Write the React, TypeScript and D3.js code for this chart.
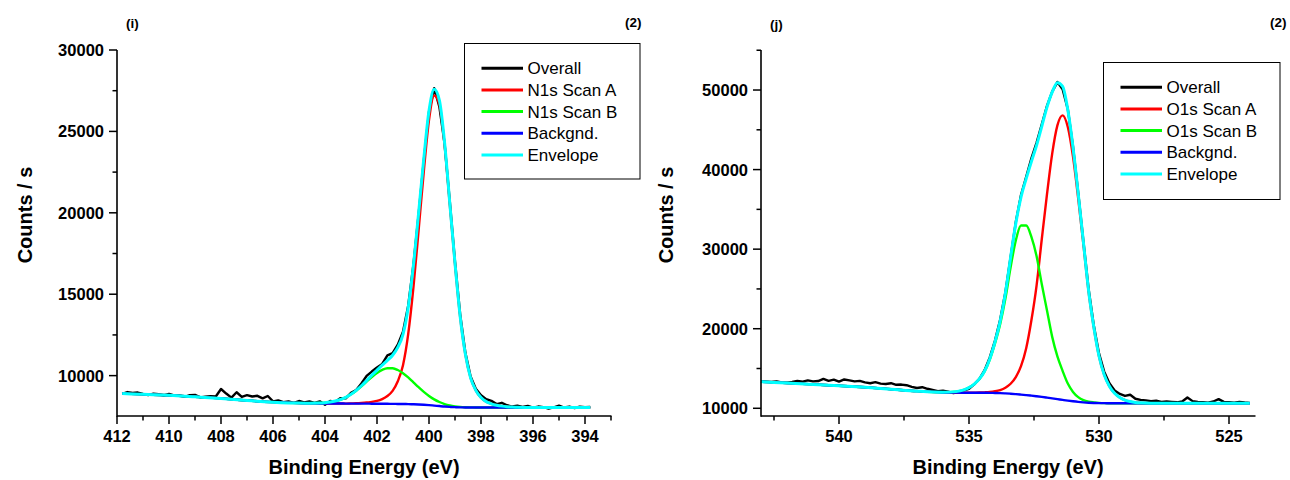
import * as d3 from 'd3';

const FONT = '"Liberation Sans", Arial, Helvetica, sans-serif';

// ---------- panel (i) : N1s ----------
const N1S_FIT_E = [
  411.8, 411, 410, 409, 408, 407, 406, 405, 404.6, 404.2,
  404.0, 403.8, 403.6, 403.4, 403.2, 403.0, 402.8, 402.6, 402.4, 402.2,
  402.0, 401.8, 401.6, 401.4, 401.2, 401.0, 400.8, 400.6, 400.4, 400.2,
  400.0, 399.8, 399.6, 399.4, 399.2, 399.0, 398.8, 398.6, 398.4, 398.2,
  398.0, 397.8, 397.6, 397.4, 397.2, 397.0, 396.8, 396.6, 396, 395, 394, 393.8,
];
const N1S_BACKGND = [
  8900, 8850, 8790, 8700, 8600, 8470, 8370, 8310, 8300, 8290,
  8285, 8284, 8284, 8284, 8283, 8283, 8282, 8281, 8279, 8276,
  8274, 8271, 8268, 8264, 8260, 8256, 8250, 8241, 8229, 8210,
  8187, 8159, 8130, 8102, 8080, 8063, 8052, 8046, 8043, 8041,
  8040, 8040, 8040, 8040, 8040, 8040, 8040, 8040, 8040, 8040, 8040, 8040,
];
const N1S_SCAN_A = [
  8900, 8850, 8790, 8700, 8600, 8470, 8370, 8310, 8300, 8290,
  8285, 8284, 8284, 8284, 8283, 8293, 8301, 8319, 8346, 8391,
  8446, 8558, 8746, 9066, 9654, 10644, 12548, 15404, 18925, 22535,
  25702, 27202, 26657, 24146, 20495, 16849, 13591, 11293, 9858, 9092,
  8651, 8403, 8269, 8183, 8126, 8088, 8069, 8055, 8042, 8040, 8040, 8040,
];
const N1S_SCAN_B = [
  8900, 8850, 8790, 8700, 8600, 8470, 8370, 8311, 8307, 8317,
  8336, 8374, 8438, 8533, 8667, 8849, 9075, 9341, 9628, 9913,
  10166, 10354, 10455, 10451, 10343, 10148, 9887, 9590, 9289, 9003,
  8753, 8543, 8379, 8256, 8170, 8114, 8079, 8060, 8050, 8044,
  8041, 8040, 8040, 8040, 8040, 8040, 8040, 8040, 8040, 8040, 8040, 8040,
];
const N1S_ENVELOPE = [
  8900, 8850, 8790, 8700, 8600, 8470, 8370, 8311, 8307, 8317,
  8336, 8374, 8438, 8533, 8667, 8859, 9094, 9379, 9695, 10028,
  10338, 10641, 10933, 11253, 11737, 12536, 14185, 16753, 19985, 23328,
  26268, 27586, 26906, 24300, 20585, 16900, 13618, 11307, 9865, 9095,
  8651, 8403, 8269, 8183, 8126, 8088, 8069, 8055, 8042, 8040, 8040, 8040,
];
const N1S_RAW_E = [
  411.8, 411.6, 411.4, 411.2, 411.0, 410.8, 410.6, 410.4, 410.2, 410.0,
  409.8, 409.6, 409.4, 409.2, 409.0, 408.8, 408.6, 408.4, 408.2, 408.0,
  407.8, 407.6, 407.4, 407.2, 407.0, 406.8, 406.6, 406.4, 406.2, 406.0,
  405.8, 405.6, 405.4, 405.2, 405.0, 404.8, 404.6, 404.4, 404.2, 404.0,
  403.8, 403.6, 403.4, 403.2, 403.0, 402.8, 402.6, 402.4, 402.2, 402.0,
  401.8, 401.6, 401.4, 401.2, 401.0, 400.8, 400.6, 400.4, 400.2, 400.0,
  399.8, 399.6, 399.4, 399.2, 399.0, 398.8, 398.6, 398.4, 398.2, 398.0,
  397.8, 397.6, 397.4, 397.2, 397.0, 396.8, 396.6, 396.4, 396.2, 396.0,
  395.8, 395.6, 395.4, 395.2, 395.0, 394.8, 394.6, 394.4, 394.2, 394.0, 393.8,
];
const N1S_OVERALL = [
  8880, 8990, 8930, 8960, 8870, 8800, 8890, 8860, 8780, 8870,
  8790, 8780, 8700, 8800, 8820, 8660, 8700, 8730, 8720, 9180,
  8900, 8650, 8980, 8700, 8800, 8720, 8760, 8600, 8750, 8420,
  8480, 8370, 8420, 8330, 8440, 8360, 8420, 8330, 8420, 8210,
  8450, 8390, 8620, 8600, 8950, 9120, 9520, 9980, 10250, 10500,
  10720, 11250, 11380, 11900, 12700, 14300, 16800, 19900, 23200, 26200,
  27650, 26500, 24250, 20700, 17000, 13750, 11400, 9950, 9200, 8800,
  8550, 8450, 8250, 8330, 8180, 8100, 8150, 8080, 8140, 8030,
  8100, 8060, 7980, 8050, 8150, 8040, 8100, 8010, 8090, 8060, 8080,
];
const N1S_X_TICKS = [412, 410, 408, 406, 404, 402, 400, 398, 396, 394];
const N1S_X_MINOR = [411, 409, 407, 405, 403, 401, 399, 397, 395, 393];
const N1S_Y_TICKS = [10000, 15000, 20000, 25000, 30000];
const N1S_Y_MINOR = [12500, 17500, 22500, 27500];
const N1S_LEGEND = ['Overall', 'N1s Scan A', 'N1s Scan B', 'Backgnd.', 'Envelope'];

// ---------- panel (j) : O1s ----------
const O1S_FIT_E = [
  543, 542, 541, 540, 539, 538, 537, 536, 535.5, 535.2,
  535.0, 534.8, 534.6, 534.4, 534.2, 534.0, 533.8, 533.6, 533.4, 533.2,
  533.0, 532.8, 532.6, 532.4, 532.2, 532.0, 531.8, 531.6, 531.4, 531.2,
  531.0, 530.8, 530.6, 530.4, 530.2, 530.0, 529.8, 529.6, 529.4, 529.2,
  529.0, 528.8, 528.6, 528.4, 528, 527, 526, 525, 524.2,
];
const O1S_BACKGND = [
  13340, 13170, 13000, 12840, 12640, 12400, 12150, 11990, 11965, 11960,
  11959, 11957, 11954, 11949, 11939, 11924, 11902, 11871, 11830, 11780,
  11722, 11658, 11587, 11511, 11430, 11342, 11249, 11153, 11055, 10961,
  10877, 10804, 10747, 10703, 10673, 10654, 10643, 10636, 10633, 10631,
  10630, 10630, 10630, 10630, 10630, 10630, 10630, 10630, 10630,
];
const O1S_SCAN_A = [
  13340, 13170, 13000, 12840, 12640, 12400, 12150, 11990, 11965, 11960,
  11959, 11968, 11979, 12003, 12046, 12139, 12295, 12586, 13082, 13926,
  15298, 17558, 21063, 25457, 31277, 36910, 42003, 45554, 46815, 45362,
  41631, 36372, 30594, 24649, 20149, 16554, 14219, 12782, 11885, 11346,
  11023, 10845, 10737, 10684, 10641, 10630, 10630, 10630, 10630,
];
const O1S_SCAN_B = [
  13340, 13170, 13000, 12840, 12640, 12400, 12150, 12011, 12094, 12303,
  12603, 13030, 13671, 14632, 16124, 18147, 20593, 23781, 27710, 31094,
  32967, 32968, 31545, 29108, 25594, 22287, 18975, 16518, 14703, 13107,
  12057, 11405, 11026, 10832, 10737, 10675, 10643, 10636, 10633, 10631,
  10630, 10630, 10630, 10630, 10630, 10630, 10630, 10630, 10630,
];
const O1S_ENVELOPE = [
  13340, 13170, 13000, 12840, 12640, 12400, 12150, 12011, 12094, 12303,
  12603, 13041, 13696, 14686, 16231, 18362, 20986, 24496, 28962, 33240,
  36543, 38868, 41021, 43054, 45441, 47855, 49729, 50919, 50463, 47508,
  42811, 36973, 30873, 24778, 20213, 16575, 14219, 12782, 11885, 11346,
  11023, 10845, 10737, 10684, 10641, 10630, 10630, 10630, 10630,
];
const O1S_RAW_E = [
  543.0, 542.8, 542.6, 542.4, 542.2, 542.0, 541.8, 541.6, 541.4, 541.2,
  541.0, 540.8, 540.6, 540.4, 540.2, 540.0, 539.8, 539.6, 539.4, 539.2,
  539.0, 538.8, 538.6, 538.4, 538.2, 538.0, 537.8, 537.6, 537.4, 537.2,
  537.0, 536.8, 536.6, 536.4, 536.2, 536.0, 535.8, 535.6, 535.4, 535.2,
  535.0, 534.8, 534.6, 534.4, 534.2, 534.0, 533.8, 533.6, 533.4, 533.2,
  533.0, 532.8, 532.6, 532.4, 532.2, 532.0, 531.8, 531.6, 531.4, 531.2,
  531.0, 530.8, 530.6, 530.4, 530.2, 530.0, 529.8, 529.6, 529.4, 529.2,
  529.0, 528.8, 528.6, 528.4, 528.2, 528.0, 527.8, 527.6, 527.4, 527.2,
  527.0, 526.8, 526.6, 526.4, 526.2, 526.0, 525.8, 525.6, 525.4, 525.2,
  525.0, 524.8, 524.6, 524.4, 524.2,
];
const O1S_OVERALL = [
  13400, 13350, 13300, 13380, 13250, 13220, 13300, 13450, 13350, 13500,
  13380, 13420, 13700, 13450, 13600, 13350, 13620, 13500, 13380, 13450,
  13250, 13150, 13280, 13100, 13050, 13150, 12950, 12980, 12900, 12700,
  12550, 12650, 12450, 12300, 12150, 12200, 12100, 11900, 12050, 12250,
  12450, 13000, 13700, 14800, 16400, 18500, 21150, 24600, 29000, 33400,
  36800, 39100, 41400, 43400, 45700, 48000, 49800, 51000, 50100, 47600,
  42900, 37100, 31000, 25000, 20400, 16900, 14600, 13150, 12250, 11800,
  11550, 11700, 11200, 11050, 11000, 10900, 10950, 10800, 10850, 10800,
  10750, 10850, 11350, 10900, 10800, 10750, 10700, 10850, 11150, 10800,
  10750, 10700, 10800, 10720, 10680,
];
const O1S_X_TICKS = [540, 535, 530, 525];
const O1S_X_MINOR = [542.5, 537.5, 532.5, 527.5];
const O1S_Y_TICKS = [10000, 20000, 30000, 40000, 50000];
const O1S_Y_MINOR = [15000, 25000, 35000, 45000, 55000];
const O1S_LEGEND = ['Overall', 'O1s Scan A', 'O1s Scan B', 'Backgnd.', 'Envelope'];

// Overall, Scan A, Scan B, Backgnd., Envelope
const SERIES_COLORS = ['#000000', '#ff0000', '#00ff00', '#0000ff', '#00ffff'];

const TOP = 50;
const BOTTOM = 416;

type PanelProps = {
  left: number;
  right: number;
  xDomain: [number, number];
  yDomain: [number, number];
  xTicks: number[];
  xMinor: number[];
  yTicks: number[];
  yMinor: number[];
  fitE: number[];
  fits: number[][]; // scan A, scan B, backgnd, envelope
  rawE: number[];
  raw: number[];
  legend: string[];
  legendBox: { x: number; y: number; w: number; h: number };
  yTitleX: number;
  tag: string;
  tagX: number;
  tagY: number;
  numX: number;
};

function Panel(p: PanelProps) {
  const x = d3.scaleLinear().domain(p.xDomain).range([p.left, p.right]);
  const y = d3.scaleLinear().domain(p.yDomain).range([BOTTOM, TOP]);

  const fitLine = d3
    .line<number>()
    .x((_, i) => x(p.fitE[i]))
    .y((v) => y(v))
    .curve(d3.curveMonotoneX);
  const rawLine = d3
    .line<number>()
    .x((_, i) => x(p.rawE[i]))
    .y((v) => y(v));

  const lb = p.legendBox;
  const rowH = 21.7;

  // drawing order: overall, scan A, scan B, backgnd, envelope
  const fitColors = [SERIES_COLORS[1], SERIES_COLORS[2], SERIES_COLORS[3], SERIES_COLORS[4]];

  return (
    <g fontFamily={FONT}>
      <path d={rawLine(p.raw) || ''} fill="none" stroke={SERIES_COLORS[0]} strokeWidth={2.4} strokeLinejoin="round" />
      {p.fits.map((vals, k) => (
        <path
          key={k}
          d={fitLine(vals) || ''}
          fill="none"
          stroke={fitColors[k]}
          strokeWidth={k === 3 ? 3 : 2.4}
          strokeLinejoin="round"
        />
      ))}

      {/* axes */}
      <line x1={p.left} x2={p.right + 0.5} y1={BOTTOM} y2={BOTTOM} stroke="#000" strokeWidth={1.6} />
      <line x1={p.left} x2={p.left} y1={TOP} y2={BOTTOM + 0.8} stroke="#000" strokeWidth={1.6} />
      {p.xTicks.map((t) => (
        <g key={'xt' + t}>
          <line x1={x(t)} x2={x(t)} y1={BOTTOM} y2={BOTTOM + 8} stroke="#000" strokeWidth={1.5} />
          <text x={x(t)} y={442} textAnchor="middle" fontSize={16.5} fontWeight="bold">
            {t}
          </text>
        </g>
      ))}
      {p.xMinor.map((t) => (
        <line key={'xm' + t} x1={x(t)} x2={x(t)} y1={BOTTOM} y2={BOTTOM + 4.5} stroke="#000" strokeWidth={1.5} />
      ))}
      {p.yTicks.map((t) => (
        <g key={'yt' + t}>
          <line x1={p.left - 8} x2={p.left} y1={y(t)} y2={y(t)} stroke="#000" strokeWidth={1.5} />
          <text x={p.left - 13} y={y(t)} dy="0.36em" textAnchor="end" fontSize={16.5} fontWeight="bold">
            {t}
          </text>
        </g>
      ))}
      {p.yMinor.map((t) => (
        <line key={'ym' + t} x1={p.left - 4.5} x2={p.left} y1={y(t)} y2={y(t)} stroke="#000" strokeWidth={1.5} />
      ))}

      <text x={(p.left + p.right) / 2} y={474} textAnchor="middle" fontSize={20} fontWeight="bold">
        Binding Energy (eV)
      </text>
      <text
        transform={`translate(${p.yTitleX},215) rotate(-90)`}
        textAnchor="middle"
        fontSize={20}
        fontWeight="bold"
      >
        Counts / s
      </text>

      <text x={p.tagX} y={p.tagY} fontSize={13.5} fontWeight="bold">
        {p.tag}
      </text>
      <text x={p.numX} y={27} fontSize={13.5} fontWeight="bold">
        (2)
      </text>

      {/* legend */}
      <rect x={lb.x} y={lb.y} width={lb.w} height={lb.h} fill="#fff" stroke="#000" strokeWidth={1} />
      {p.legend.map((name, i) => {
        const ry = lb.y + 24.7 + i * rowH;
        return (
          <g key={name}>
            <line x1={lb.x + 17} x2={lb.x + 58.5} y1={ry} y2={ry} stroke={SERIES_COLORS[i]} strokeWidth={3} />
            <text x={lb.x + 63} y={ry} dy="0.36em" fontSize={17}>
              {name}
            </text>
          </g>
        );
      })}
    </g>
  );
}

export default function App() {
  return (
    <svg
      width={1290}
      height={480}
      style={{ position: 'absolute', left: 0, top: 0, background: '#fff', display: 'block' }}
    >
      <Panel
        left={117}
        right={611}
        xDomain={[412, 393]}
        yDomain={[7520, 30000]}
        xTicks={N1S_X_TICKS}
        xMinor={N1S_X_MINOR}
        yTicks={N1S_Y_TICKS}
        yMinor={N1S_Y_MINOR}
        fitE={N1S_FIT_E}
        fits={[N1S_SCAN_A, N1S_SCAN_B, N1S_BACKGND, N1S_ENVELOPE]}
        rawE={N1S_RAW_E}
        raw={N1S_OVERALL}
        legend={N1S_LEGEND}
        legendBox={{ x: 464.5, y: 43.5, w: 175.5, h: 135.5 }}
        yTitleX={32}
        tag="(i)"
        tagX={126}
        tagY={27.5}
        numX={625}
      />
      <Panel
        left={761}
        right={1255}
        xDomain={[543, 524]}
        yDomain={[9030, 55030]}
        xTicks={O1S_X_TICKS}
        xMinor={O1S_X_MINOR}
        yTicks={O1S_Y_TICKS}
        yMinor={O1S_Y_MINOR}
        fitE={O1S_FIT_E}
        fits={[O1S_SCAN_A, O1S_SCAN_B, O1S_BACKGND, O1S_ENVELOPE]}
        rawE={O1S_RAW_E}
        raw={O1S_OVERALL}
        legend={O1S_LEGEND}
        legendBox={{ x: 1103.5, y: 62.5, w: 176.5, h: 137 }}
        yTitleX={673}
        tag="(j)"
        tagX={770}
        tagY={28.5}
        numX={1270}
      />
    </svg>
  );
}
